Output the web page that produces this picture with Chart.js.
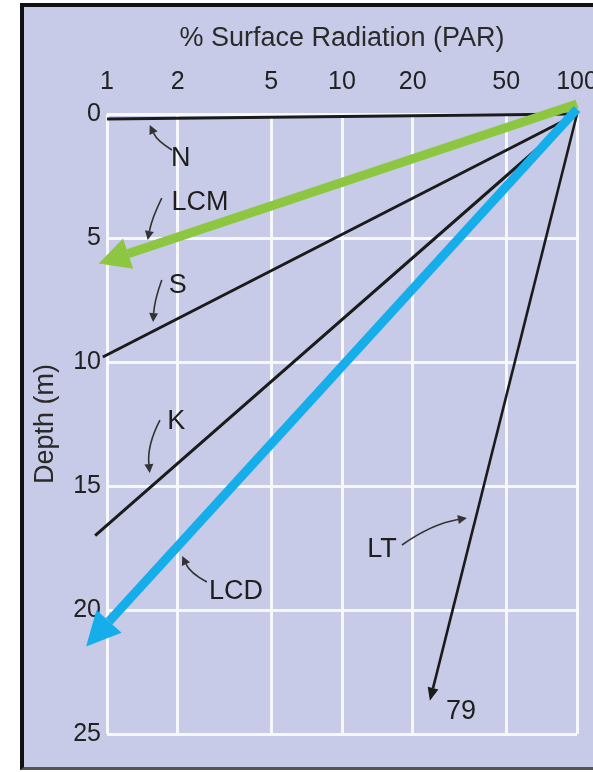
<!DOCTYPE html>
<html>
<head>
<meta charset="utf-8">
<title>% Surface Radiation (PAR) vs Depth</title>
<script src="https://cdn.jsdelivr.net/npm/chart.js@4.4.0/dist/chart.umd.min.js"></script>
<style>
  html, body { margin: 0; padding: 0; background: #fff; }
  body { width: 593px; height: 772px; position: relative; overflow: hidden; }
  #frame {
    position: absolute; left: 20px; top: 3px; width: 580px; height: 767px;
    box-sizing: border-box; background: #c8cbe7;
    border-left: 4px solid #111; border-top: 4px solid #111; border-bottom: 3px solid #555;
  }
  #chart { position: absolute; left: 0; top: 0; }
</style>
</head>
<body>
<div id="frame"></div>
<canvas id="chart" width="593" height="772"></canvas>
<script>
  // Axis ticks
  const parTicks = [1, 2, 5, 10, 20, 50, 100];
  const depthTicks = [0, 5, 10, 15, 20, 25];

  // Light profiles: % surface PAR against depth (m)
  const nPar = [100, 1];      const nDepth = [0, 0.2];
  const sPar = [100, 0.96];   const sDepth = [0, 9.8];
  const kPar = [100, 0.89];   const kDepth = [0, 17.0];
  const ltPar = [100, 24.4];  const ltDepth = [0, 23.15];
  // hand-drawn highlight arrows over LCM and LCD
  const lcmPar = [100, 1.23]; const lcmDepth = [-0.4, 5.63];
  const lcdPar = [100, 1.02]; const lcdDepth = [-0.2, 20.46];

  // Text labels on the plot
  const noteTexts = ['N', 'LCM', 'S', 'K', 'LCD', 'LT', '79'];
  const notePar = [2.06, 2.49, 2.0, 1.97, 3.54, 14.8, 32.1];
  const noteDepth = [1.81, 3.59, 6.9, 12.42, 19.27, 17.58, 24.11];

  // Small curved pointers from labels to their lines
  const pointerFrom = [[1.89, 1.45], [1.71, 3.39], [1.71, 6.69], [1.68, 12.34], [2.66, 18.87], [18.0, 17.38]];
  const pointerTo = [[1.52, 0.44], [1.49, 5.08], [1.57, 8.39], [1.52, 14.48], [2.09, 17.82], [34.0, 16.29]];
  const pointerBend = [-5, 3, 3, 8, -6, -8];

  const INK = '#1b1b1b';
  const GRID = 'rgba(250,250,255,0.95)';
  Chart.defaults.font.family = "'Liberation Sans', Arial, Helvetica, sans-serif";

  function pts(xs, ys) {
    return xs.map((x, i) => ({ x: x, y: ys[i] }));
  }

  function profile(label, xs, ys, color, width, head) {
    return {
      label: label,
      data: pts(xs, ys),
      borderColor: color,
      backgroundColor: color,
      borderWidth: width,
      pointRadius: 0,
      borderCapStyle: 'butt',
      clip: false,
      arrowHead: head || null
    };
  }

  function drawHead(ctx, base, dir, len, half, color) {
    const ang = Math.atan2(dir[1], dir[0]);
    ctx.save();
    ctx.translate(base[0], base[1]);
    ctx.rotate(ang);
    ctx.beginPath();
    ctx.moveTo(len, 0);
    ctx.lineTo(0, -half);
    ctx.lineTo(0, half);
    ctx.closePath();
    ctx.fillStyle = color;
    ctx.fill();
    ctx.restore();
  }

  // Draws arrowheads at the end of flagged datasets, then labels and pointers
  const notesPlugin = {
    id: 'notes',
    afterDatasetsDraw(chart) {
      const ctx = chart.ctx;
      const xs = chart.scales.x;
      const ys = chart.scales.y;
      const px = (p, d) => [xs.getPixelForValue(p), ys.getPixelForValue(d)];

      chart.data.datasets.forEach((ds, i) => {
        if (!ds.arrowHead) return;
        const pts = chart.getDatasetMeta(i).data;
        const a = pts[pts.length - 2];
        const b = pts[pts.length - 1];
        drawHead(ctx, [b.x, b.y], [b.x - a.x, b.y - a.y], ds.arrowHead.len, ds.arrowHead.half, ds.borderColor);
      });

      ctx.save();
      ctx.strokeStyle = '#333';
      ctx.lineWidth = 1.6;
      pointerFrom.forEach((f, i) => {
        const p0 = px(f[0], f[1]);
        const p1 = px(pointerTo[i][0], pointerTo[i][1]);
        const dx = p1[0] - p0[0];
        const dy = p1[1] - p0[1];
        const l = Math.hypot(dx, dy);
        const c = [(p0[0] + p1[0]) / 2 - dy / l * pointerBend[i], (p0[1] + p1[1]) / 2 + dx / l * pointerBend[i]];
        const head = 9;
        // stop the stroke where the head starts
        const hx = p1[0] - c[0], hy = p1[1] - c[1];
        const hl = Math.hypot(hx, hy);
        const end = [p1[0] - hx / hl * head, p1[1] - hy / hl * head];
        ctx.beginPath();
        ctx.moveTo(p0[0], p0[1]);
        ctx.quadraticCurveTo(c[0], c[1], end[0], end[1]);
        ctx.stroke();
        drawHead(ctx, end, [hx, hy], head, 4.5, '#333');
      });

      ctx.fillStyle = '#1e1e1e';
      ctx.font = "27px 'Liberation Sans', Arial, sans-serif";
      ctx.textAlign = 'center';
      ctx.textBaseline = 'middle';
      noteTexts.forEach((t, i) => {
        const p = px(notePar[i], noteDepth[i]);
        ctx.fillText(t, p[0], p[1]);
      });
      ctx.restore();
    }
  };

  new Chart(document.getElementById('chart'), {
    type: 'line',
    data: {
      datasets: [
        profile('LCD', lcdPar, lcdDepth, '#15aeea', 9, { len: 34, half: 17 }),
        profile('LCM', lcmPar, lcmDepth, '#8dc641', 9, { len: 31, half: 16 }),
        profile('N', nPar, nDepth, INK, 3),
        profile('S', sPar, sDepth, INK, 3),
        profile('K', kPar, kDepth, INK, 3),
        profile('LT', ltPar, ltDepth, INK, 2.6, { len: 13, half: 5.5 })
      ]
    },
    options: {
      responsive: false,
      animation: false,
      layout: { padding: { left: 0, top: 0, right: 16, bottom: 38 } },
      plugins: {
        legend: { display: false },
        tooltip: { enabled: false }
      },
      scales: {
        x: {
          type: 'logarithmic',
          position: 'top',
          min: 1,
          max: 100,
          afterBuildTicks: s => { s.ticks = parTicks.map(v => ({ value: v })); },
          afterFit: s => { s.height = 114; s.paddingLeft = 0; s.paddingRight = 0; },
          ticks: {
            autoSkip: false,
            maxRotation: 0,
            padding: 17,
            color: '#222',
            font: { size: 25 },
            callback: v => String(v)
          },
          grid: { color: GRID, lineWidth: 3, drawTicks: false },
          border: { display: false },
          title: {
            display: true,
            text: '% Surface Radiation (PAR)',
            color: '#2a2a2a',
            font: { size: 27 },
            padding: { top: 22, bottom: 0 }
          }
        },
        y: {
          type: 'linear',
          reverse: true,
          min: 0,
          max: 25,
          afterBuildTicks: s => { s.ticks = depthTicks.map(v => ({ value: v })); },
          afterFit: s => { s.width = 107; },
          ticks: {
            padding: 6,
            color: '#222',
            font: { size: 25 },
            callback: v => String(v)
          },
          grid: { color: GRID, lineWidth: 3, drawTicks: false },
          border: { display: false },
          title: {
            display: true,
            text: 'Depth (m)',
            color: '#2a2a2a',
            font: { size: 27 },
            padding: { top: 29, bottom: 0 }
          }
        }
      }
    },
    plugins: [notesPlugin]
  });
</script>
</body>
</html>
